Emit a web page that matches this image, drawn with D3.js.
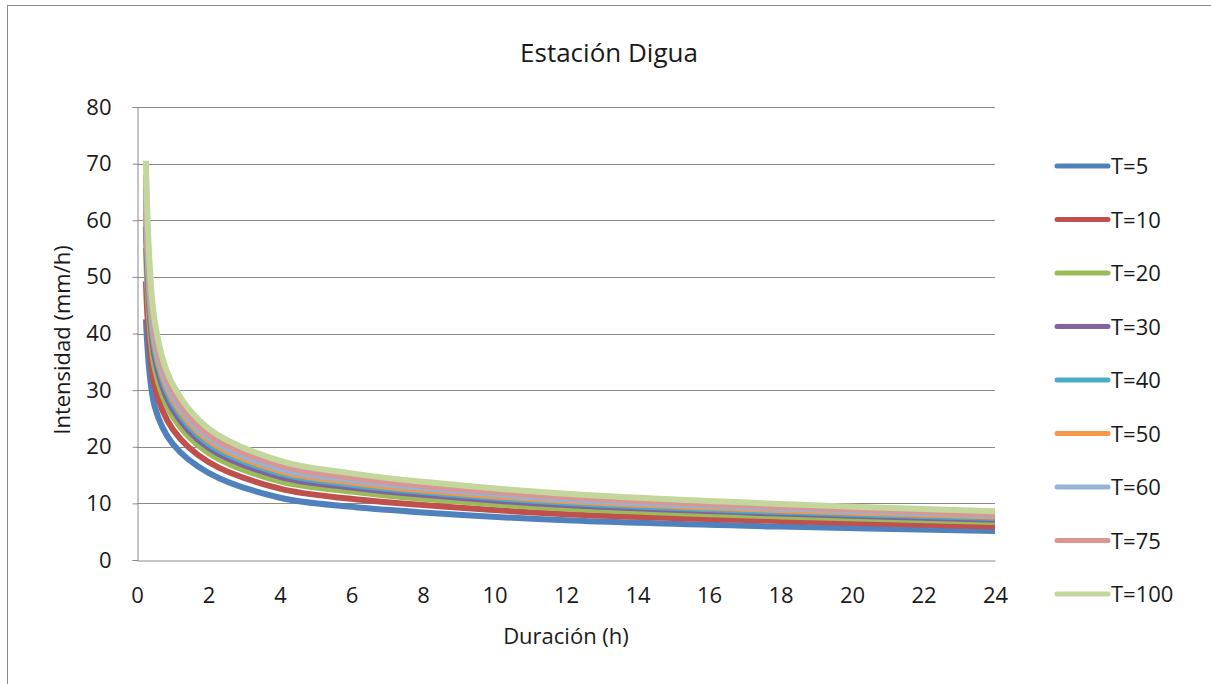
<!DOCTYPE html>
<html>
<head>
<meta charset="utf-8">
<script src="https://cdn.jsdelivr.net/npm/d3@7"></script>
<style>
  body { margin: 0; background: #fff; }
  svg text { font-family: "Open Sans", Lato, sans-serif; fill: #1a1a1a; }
</style>
</head>
<body>
<svg id="chart" width="1211" height="684"></svg>
<script>
// durations in hours
var durations = [0.25, 0.5, 1, 2, 4, 6, 8, 12, 18, 24];
var seriesNames = ['T=5', 'T=10', 'T=20', 'T=30', 'T=40', 'T=50', 'T=60', 'T=75', 'T=100'];
var seriesColors = ['#4F81BD', '#C0504D', '#9BBB59', '#8064A2', '#4BACC6', '#F79646', '#95B3D7', '#D99694', '#C3D69B'];

// intensities (mm/h)
var t5   = [42.5, 27.0, 20.5, 15.4, 11.0, 9.4, 8.4, 7.0, 5.9, 5.1];
var t10  = [49.2, 30.6, 23.1, 17.3, 12.6, 10.8, 9.7, 8.1, 6.9, 5.9];
var t20  = [55.1, 33.8, 25.3, 18.9, 13.9, 12.1, 10.8, 9.1, 7.7, 6.7];
var t30  = [58.8, 35.6, 26.6, 19.8, 14.7, 12.8, 11.5, 9.7, 8.2, 7.1];
var t40  = [61.5, 37.0, 27.6, 20.5, 15.3, 13.3, 12.0, 10.1, 8.5, 7.4];
var t50  = [63.5, 38.0, 28.3, 21.1, 15.7, 13.7, 12.3, 10.4, 8.8, 7.7];
var t60  = [65.5, 38.9, 28.9, 21.6, 16.1, 14.1, 12.7, 10.7, 9.1, 7.9];
var t75  = [68.0, 40.2, 29.8, 22.2, 16.7, 14.5, 13.1, 11.1, 9.4, 8.1];
var t100 = [70.5, 42.0, 31.0, 23.2, 17.5, 15.3, 13.8, 11.7, 9.9, 8.6];
var seriesValues = [t5, t10, t20, t30, t40, t50, t60, t75, t100];

var xTicks = d3.range(0, 25, 2);
var yTicks = d3.range(0, 81, 10);

var svg = d3.select('#chart');
var margin = {left: 137, right: 995, top: 107, bottom: 560};

var x = d3.scaleLinear().domain([0, 24]).range([margin.left, margin.right]);
var y = d3.scaleLinear().domain([0, 80]).range([margin.bottom, margin.top]);

// outer chart border
svg.append('rect')
  .attr('x', 7.5).attr('y', 5.5)
  .attr('width', 1220).attr('height', 700)
  .attr('fill', 'none').attr('stroke', '#8c8c8c').attr('stroke-width', 1);

// gridlines
svg.append('g').selectAll('line').data(yTicks.filter(function(d) { return d > 0; }))
  .join('line')
  .attr('x1', margin.left).attr('x2', margin.right)
  .attr('y1', function(d) { return Math.round(y(d)) + 0.5; })
  .attr('y2', function(d) { return Math.round(y(d)) + 0.5; })
  .attr('stroke', '#8a8a8a').attr('stroke-width', 1);

// y axis
var yAxis = svg.append('g')
  .attr('transform', 'translate(' + (margin.left + 0.5) + ',0)')
  .call(d3.axisLeft(y).tickValues(yTicks).tickSize(5).tickPadding(21).tickFormat(d3.format('d')));
yAxis.select('.domain').attr('stroke', '#8a8a8a');
yAxis.selectAll('.tick line').attr('stroke', '#8a8a8a');
yAxis.selectAll('.tick text').style('font-size', '22px').attr('fill', '#1a1a1a');

// x axis
var xAxis = svg.append('g')
  .attr('transform', 'translate(0,' + (margin.bottom + 0.5) + ')')
  .call(d3.axisBottom(x).tickValues(xTicks).tickSize(0).tickPadding(27).tickFormat(d3.format('d')));
xAxis.select('.domain').attr('stroke', '#8a8a8a');
xAxis.selectAll('.tick text').style('font-size', '22px').attr('fill', '#1a1a1a');

// series lines, smoothed like the spreadsheet chart
var line = d3.line()
  .x(function(d, i) { return x(durations[i]); })
  .y(function(d) { return y(d); })
  .curve(d3.curveCatmullRom.alpha(0.5));

svg.append('g').selectAll('path').data(seriesValues)
  .join('path')
  .attr('d', line)
  .attr('fill', 'none')
  .attr('stroke', function(d, i) { return seriesColors[i]; })
  .attr('stroke-width', 6)
  .attr('stroke-linejoin', 'round');

// title and axis labels
svg.append('text')
  .attr('x', 609).attr('y', 62)
  .attr('text-anchor', 'middle')
  .style('font-size', '26px')
  .text('Estación Digua');

svg.append('text')
  .attr('x', 566).attr('y', 644)
  .attr('text-anchor', 'middle')
  .style('font-size', '22px')
  .text('Duración (h)');

svg.append('text')
  .attr('transform', 'translate(70,340) rotate(-90)')
  .attr('text-anchor', 'middle')
  .style('font-size', '22px')
  .text('Intensidad (mm/h)');

// legend
var legend = svg.append('g').selectAll('g').data(seriesNames)
  .join('g')
  .attr('transform', function(d, i) { return 'translate(1055,' + (166 + i * 53.5) + ')'; });

legend.append('line')
  .attr('x1', 2).attr('x2', 53)
  .attr('stroke', function(d, i) { return seriesColors[i]; })
  .attr('stroke-width', 5)
  .attr('stroke-linecap', 'round');

legend.append('text')
  .attr('x', 56).attr('y', 8)
  .style('font-size', '22px')
  .text(function(d) { return d; });
</script>
</body>
</html>
